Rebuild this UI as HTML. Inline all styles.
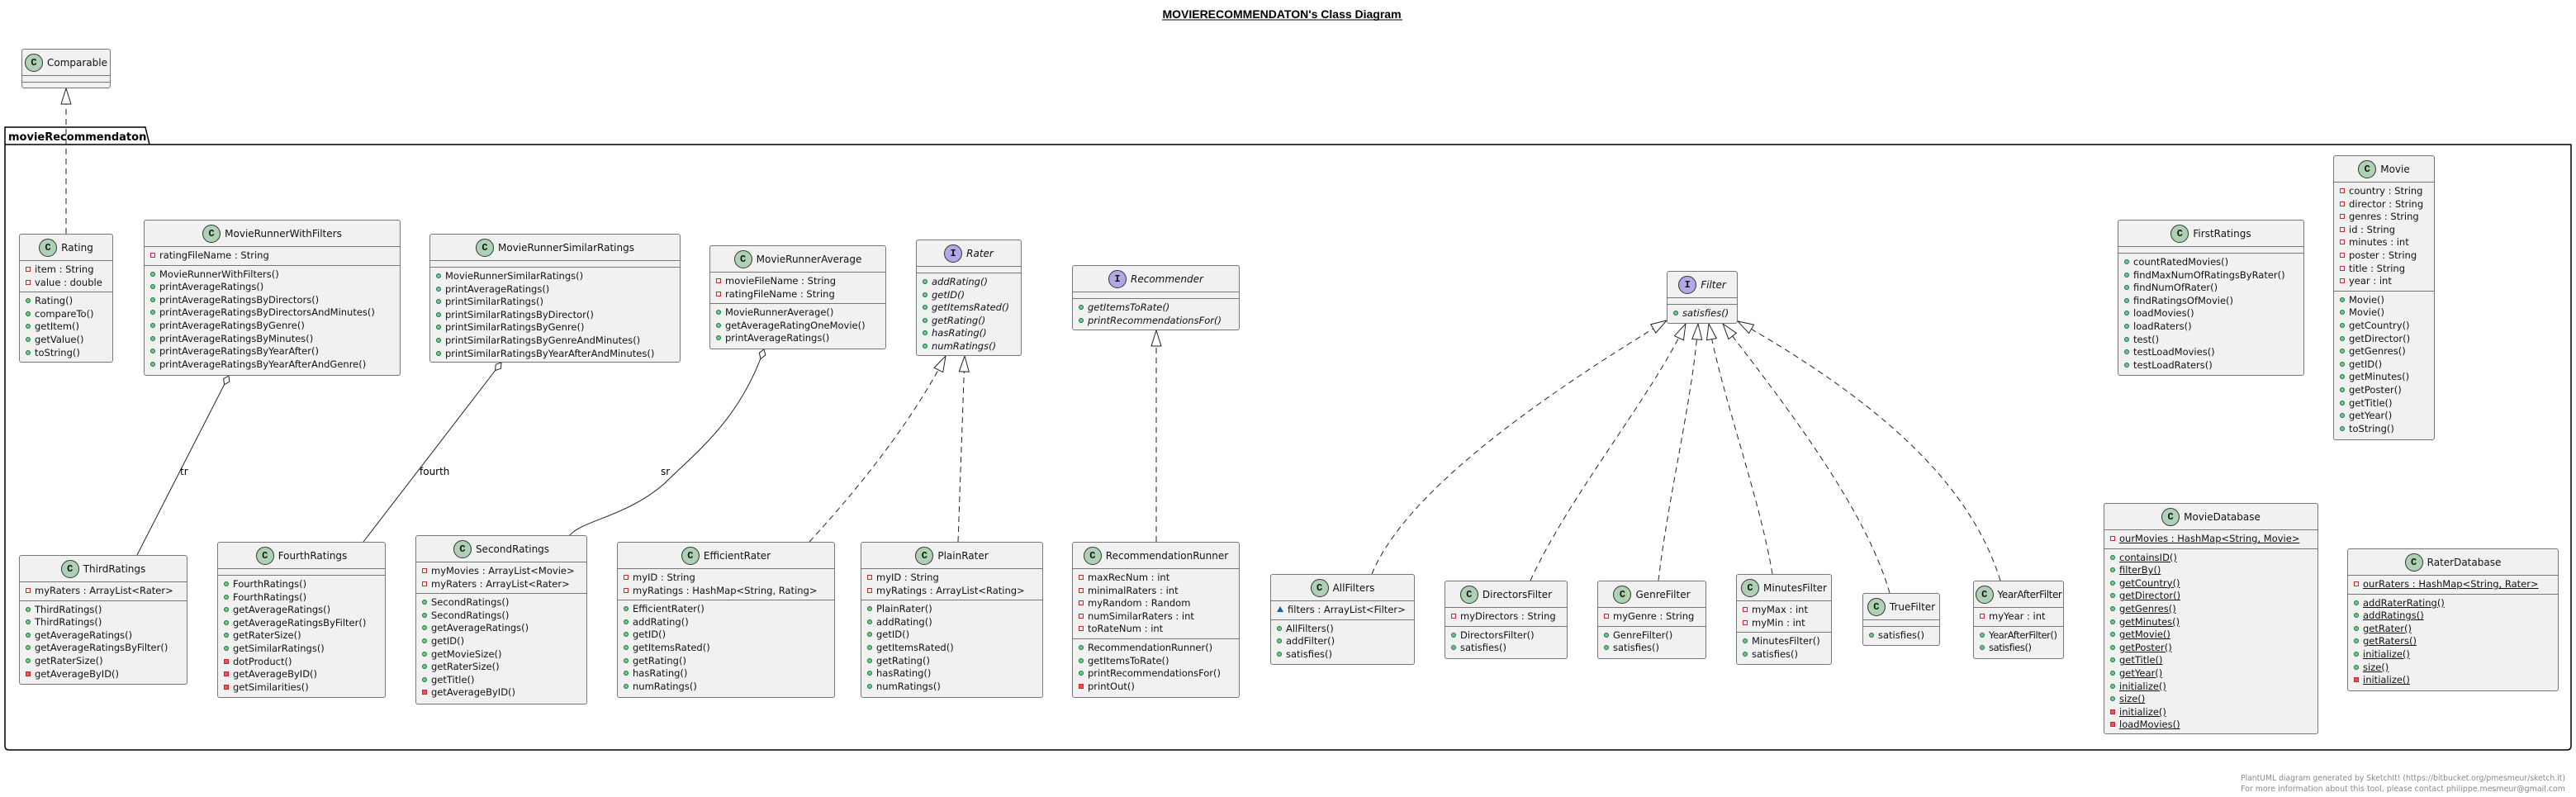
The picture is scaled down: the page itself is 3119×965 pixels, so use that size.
<!DOCTYPE html>
<html><head><meta charset="utf-8">
<style>
html,body{margin:0;padding:0;background:#fff;}
body{width:3119px;height:965px;position:relative;overflow:hidden;font-family:"DejaVu Sans","Liberation Sans",sans-serif;}
svg.bg{position:absolute;left:0;top:0;}
.b{position:absolute;background:#f1f1f1;border:1px solid #777;border-radius:3px;box-sizing:border-box;font-size:11.5px;color:#111;overflow:hidden;}
.h{height:31px;display:flex;align-items:center;justify-content:center;font-size:12px;white-space:nowrap;}
.h .ic{width:20px;height:20px;flex:none;border-radius:50%;border:1px solid #333;background:#add1b2;display:inline-flex;align-items:center;justify-content:center;font-weight:bold;font-size:12px;margin-right:5px;font-family:"Liberation Mono",monospace;}
.h .ii{background:#b4a7e5;}
.it{font-style:italic;}
.c{border-top:1px solid #777;padding:3px 0 3px 0;min-height:1px;}
.e{border-top:1px solid #777;height:7px;}
.c div{line-height:15.6px;height:15.6px;white-space:nowrap;padding-left:7px;}
i{display:inline-block;width:6px;height:6px;margin-right:5px;vertical-align:1px;box-sizing:border-box;}
i.pu{border-radius:50%;background:#84be84;border:1px solid #038048;}
i.pf{border:1px solid #c82930;background:transparent;}
i.pm{background:#f24d5c;border:1px solid #c82930;}
i.pk{width:0;height:0;border-left:4px solid transparent;border-right:4px solid transparent;border-bottom:7px solid #1963a0;}
u{text-decoration:underline;}
.lbl{position:absolute;font-size:12px;font-family:"DejaVu Sans",sans-serif;}
</style></head><body>
<svg class="bg" width="3119" height="965" xmlns="http://www.w3.org/2000/svg">
<defs>
<marker id="tri" markerUnits="userSpaceOnUse" markerWidth="24" markerHeight="18" refX="20" refY="7" orient="auto">
<path d="M1,1 L20,7 L1,13 Z" fill="#fff" stroke="#222" stroke-width="1"/>
</marker>
<marker id="dia" markerUnits="userSpaceOnUse" markerWidth="20" markerHeight="12" refX="1" refY="5" orient="auto">
<path d="M1,5 L7,1 L13,5 L7,9 Z" fill="#fff" stroke="#222" stroke-width="1"/>
</marker>
</defs>
<text x="1552" y="22" text-anchor="middle" font-family="Liberation Sans, sans-serif" font-weight="bold" font-size="14">MOVIERECOMMENDATON's Class Diagram</text>
<line x1="1407" y1="24" x2="1698" y2="24" stroke="#000" stroke-width="1"/>
<path d="M6,175 L6,154 L176,154 L181,175" fill="none" stroke="#000" stroke-width="1.5"/>
<path d="M6,175 L3113,175 L3113,903 Q3113,908 3108,908 L11,908 Q6,908 6,903 Z" fill="none" stroke="#000" stroke-width="1.5"/>
<text x="10" y="170" font-family="DejaVu Sans, sans-serif" font-weight="bold" font-size="13">movieRecommendaton</text>
<g fill="none" stroke="#222" stroke-width="1" stroke-dasharray="7,5">
<path d="M80,283 L80,107" marker-end="url(#tri)"/>
<path d="M980,656 C1050,580 1110,500 1145,431" marker-end="url(#tri)"/>
<path d="M1160,656 L1168,431" marker-end="url(#tri)"/>
<path d="M1400,656 L1400,400" marker-end="url(#tri)"/>
<path d="M1661,695 C1700,600 1850,490 2018,388" marker-end="url(#tri)"/>
<path d="M1853,703 C1900,600 2000,480 2041,392" marker-end="url(#tri)"/>
<path d="M2008,703 C2020,600 2050,480 2056,392" marker-end="url(#tri)"/>
<path d="M2146,695 C2130,600 2085,480 2069,392" marker-end="url(#tri)"/>
<path d="M2288,718 C2260,620 2170,500 2086,392" marker-end="url(#tri)"/>
<path d="M2422,703 C2390,600 2300,500 2104,389" marker-end="url(#tri)"/>
</g>
<g fill="none" stroke="#222" stroke-width="1">
<path d="M277,455 L166,672" marker-start="url(#dia)"/>
<path d="M607,439 L440,656" marker-start="url(#dia)"/>
<path d="M925,423 C895,510 840,550 805,585 C760,625 705,630 690,648" marker-start="url(#dia)"/>
</g>
<text x="3106" y="945" text-anchor="end" font-family="DejaVu Sans, sans-serif" font-size="9.5" fill="#888" textLength="393" lengthAdjust="spacingAndGlyphs">PlantUML diagram generated by SketchIt! (https://bitbucket.org/pmesmeur/sketch.it)</text>
<text x="3106" y="958" text-anchor="end" font-family="DejaVu Sans, sans-serif" font-size="9.5" fill="#888" textLength="393" lengthAdjust="spacingAndGlyphs">For more information about this tool, please contact philippe.mesmeur@gmail.com</text>
</svg>

<div class="lbl" style="left:218px;top:564px">tr</div>
<div class="lbl" style="left:508px;top:564px">fourth</div>
<div class="lbl" style="left:800px;top:564px">sr</div>

<div class="b" style="left:26px;top:59px;width:108px;height:48px"><div class="h"><span class="ic">C</span>Comparable</div><div class="e"></div><div class="e"></div></div>

<div class="b" style="left:23px;top:283px;width:114px;height:156px"><div class="h"><span class="ic">C</span>Rating</div>
<div class="c"><div><i class="pf"></i>item : String</div><div><i class="pf"></i>value : double</div></div>
<div class="c"><div><i class="pu"></i>Rating()</div><div><i class="pu"></i>compareTo()</div><div><i class="pu"></i>getItem()</div><div><i class="pu"></i>getValue()</div><div><i class="pu"></i>toString()</div></div></div>

<div class="b" style="left:174px;top:266px;width:311px;height:189px"><div class="h"><span class="ic">C</span>MovieRunnerWithFilters</div>
<div class="c"><div><i class="pf"></i>ratingFileName : String</div></div>
<div class="c"><div><i class="pu"></i>MovieRunnerWithFilters()</div><div><i class="pu"></i>printAverageRatings()</div><div><i class="pu"></i>printAverageRatingsByDirectors()</div><div><i class="pu"></i>printAverageRatingsByDirectorsAndMinutes()</div><div><i class="pu"></i>printAverageRatingsByGenre()</div><div><i class="pu"></i>printAverageRatingsByMinutes()</div><div><i class="pu"></i>printAverageRatingsByYearAfter()</div><div><i class="pu"></i>printAverageRatingsByYearAfterAndGenre()</div></div></div>

<div class="b" style="left:520px;top:283px;width:304px;height:156px"><div class="h"><span class="ic">C</span>MovieRunnerSimilarRatings</div>
<div class="e"></div>
<div class="c"><div><i class="pu"></i>MovieRunnerSimilarRatings()</div><div><i class="pu"></i>printAverageRatings()</div><div><i class="pu"></i>printSimilarRatings()</div><div><i class="pu"></i>printSimilarRatingsByDirector()</div><div><i class="pu"></i>printSimilarRatingsByGenre()</div><div><i class="pu"></i>printSimilarRatingsByGenreAndMinutes()</div><div><i class="pu"></i>printSimilarRatingsByYearAfterAndMinutes()</div></div></div>

<div class="b" style="left:859px;top:297px;width:214px;height:126px"><div class="h"><span class="ic">C</span>MovieRunnerAverage</div>
<div class="c"><div><i class="pf"></i>movieFileName : String</div><div><i class="pf"></i>ratingFileName : String</div></div>
<div class="c"><div><i class="pu"></i>MovieRunnerAverage()</div><div><i class="pu"></i>getAverageRatingOneMovie()</div><div><i class="pu"></i>printAverageRatings()</div></div></div>

<div class="b" style="left:1109px;top:290px;width:128px;height:141px"><div class="h"><span class="ic ii">I</span><span class="it">Rater</span></div>
<div class="e"></div>
<div class="c it"><div><i class="pu"></i>addRating()</div><div><i class="pu"></i>getID()</div><div><i class="pu"></i>getItemsRated()</div><div><i class="pu"></i>getRating()</div><div><i class="pu"></i>hasRating()</div><div><i class="pu"></i>numRatings()</div></div></div>

<div class="b" style="left:1298px;top:321px;width:203px;height:79px"><div class="h"><span class="ic ii">I</span><span class="it">Recommender</span></div>
<div class="e"></div>
<div class="c it"><div><i class="pu"></i>getItemsToRate()</div><div><i class="pu"></i>printRecommendationsFor()</div></div></div>

<div class="b" style="left:2018px;top:328px;width:86px;height:64px"><div class="h"><span class="ic ii">I</span><span class="it">Filter</span></div>
<div class="e"></div>
<div class="c it"><div><i class="pu"></i>satisfies()</div></div></div>

<div class="b" style="left:2564px;top:266px;width:226px;height:189px"><div class="h"><span class="ic">C</span>FirstRatings</div>
<div class="e"></div>
<div class="c"><div><i class="pu"></i>countRatedMovies()</div><div><i class="pu"></i>findMaxNumOfRatingsByRater()</div><div><i class="pu"></i>findNumOfRater()</div><div><i class="pu"></i>findRatingsOfMovie()</div><div><i class="pu"></i>loadMovies()</div><div><i class="pu"></i>loadRaters()</div><div><i class="pu"></i>test()</div><div><i class="pu"></i>testLoadMovies()</div><div><i class="pu"></i>testLoadRaters()</div></div></div>

<div class="b" style="left:2825px;top:188px;width:123px;height:345px"><div class="h"><span class="ic">C</span>Movie</div>
<div class="c"><div><i class="pf"></i>country : String</div><div><i class="pf"></i>director : String</div><div><i class="pf"></i>genres : String</div><div><i class="pf"></i>id : String</div><div><i class="pf"></i>minutes : int</div><div><i class="pf"></i>poster : String</div><div><i class="pf"></i>title : String</div><div><i class="pf"></i>year : int</div></div>
<div class="c"><div><i class="pu"></i>Movie()</div><div><i class="pu"></i>Movie()</div><div><i class="pu"></i>getCountry()</div><div><i class="pu"></i>getDirector()</div><div><i class="pu"></i>getGenres()</div><div><i class="pu"></i>getID()</div><div><i class="pu"></i>getMinutes()</div><div><i class="pu"></i>getPoster()</div><div><i class="pu"></i>getTitle()</div><div><i class="pu"></i>getYear()</div><div><i class="pu"></i>toString()</div></div></div>

<div class="b" style="left:23px;top:672px;width:204px;height:157px"><div class="h"><span class="ic">C</span>ThirdRatings</div>
<div class="c"><div><i class="pf"></i>myRaters : ArrayList&lt;Rater&gt;</div></div>
<div class="c"><div><i class="pu"></i>ThirdRatings()</div><div><i class="pu"></i>ThirdRatings()</div><div><i class="pu"></i>getAverageRatings()</div><div><i class="pu"></i>getAverageRatingsByFilter()</div><div><i class="pu"></i>getRaterSize()</div><div><i class="pm"></i>getAverageByID()</div></div></div>

<div class="b" style="left:263px;top:656px;width:204px;height:189px"><div class="h"><span class="ic">C</span>FourthRatings</div>
<div class="e"></div>
<div class="c"><div><i class="pu"></i>FourthRatings()</div><div><i class="pu"></i>FourthRatings()</div><div><i class="pu"></i>getAverageRatings()</div><div><i class="pu"></i>getAverageRatingsByFilter()</div><div><i class="pu"></i>getRaterSize()</div><div><i class="pu"></i>getSimilarRatings()</div><div><i class="pm"></i>dotProduct()</div><div><i class="pm"></i>getAverageByID()</div><div><i class="pm"></i>getSimilarities()</div></div></div>

<div class="b" style="left:503px;top:648px;width:208px;height:205px"><div class="h"><span class="ic">C</span>SecondRatings</div>
<div class="c"><div><i class="pf"></i>myMovies : ArrayList&lt;Movie&gt;</div><div><i class="pf"></i>myRaters : ArrayList&lt;Rater&gt;</div></div>
<div class="c"><div><i class="pu"></i>SecondRatings()</div><div><i class="pu"></i>SecondRatings()</div><div><i class="pu"></i>getAverageRatings()</div><div><i class="pu"></i>getID()</div><div><i class="pu"></i>getMovieSize()</div><div><i class="pu"></i>getRaterSize()</div><div><i class="pu"></i>getTitle()</div><div><i class="pm"></i>getAverageByID()</div></div></div>

<div class="b" style="left:747px;top:656px;width:264px;height:189px"><div class="h"><span class="ic">C</span>EfficientRater</div>
<div class="c"><div><i class="pf"></i>myID : String</div><div><i class="pf"></i>myRatings : HashMap&lt;String, Rating&gt;</div></div>
<div class="c"><div><i class="pu"></i>EfficientRater()</div><div><i class="pu"></i>addRating()</div><div><i class="pu"></i>getID()</div><div><i class="pu"></i>getItemsRated()</div><div><i class="pu"></i>getRating()</div><div><i class="pu"></i>hasRating()</div><div><i class="pu"></i>numRatings()</div></div></div>

<div class="b" style="left:1042px;top:656px;width:221px;height:189px"><div class="h"><span class="ic">C</span>PlainRater</div>
<div class="c"><div><i class="pf"></i>myID : String</div><div><i class="pf"></i>myRatings : ArrayList&lt;Rating&gt;</div></div>
<div class="c"><div><i class="pu"></i>PlainRater()</div><div><i class="pu"></i>addRating()</div><div><i class="pu"></i>getID()</div><div><i class="pu"></i>getItemsRated()</div><div><i class="pu"></i>getRating()</div><div><i class="pu"></i>hasRating()</div><div><i class="pu"></i>numRatings()</div></div></div>

<div class="b" style="left:1298px;top:656px;width:203px;height:189px"><div class="h"><span class="ic">C</span>RecommendationRunner</div>
<div class="c"><div><i class="pf"></i>maxRecNum : int</div><div><i class="pf"></i>minimalRaters : int</div><div><i class="pf"></i>myRandom : Random</div><div><i class="pf"></i>numSimilarRaters : int</div><div><i class="pf"></i>toRateNum : int</div></div>
<div class="c"><div><i class="pu"></i>RecommendationRunner()</div><div><i class="pu"></i>getItemsToRate()</div><div><i class="pu"></i>printRecommendationsFor()</div><div><i class="pm"></i>printOut()</div></div></div>

<div class="b" style="left:1538px;top:695px;width:175px;height:110px"><div class="h"><span class="ic">C</span>AllFilters</div>
<div class="c"><div><i class="pk"></i>filters : ArrayList&lt;Filter&gt;</div></div>
<div class="c"><div><i class="pu"></i>AllFilters()</div><div><i class="pu"></i>addFilter()</div><div><i class="pu"></i>satisfies()</div></div></div>

<div class="b" style="left:1749px;top:703px;width:149px;height:95px"><div class="h"><span class="ic">C</span>DirectorsFilter</div>
<div class="c"><div><i class="pf"></i>myDirectors : String</div></div>
<div class="c"><div><i class="pu"></i>DirectorsFilter()</div><div><i class="pu"></i>satisfies()</div></div></div>

<div class="b" style="left:1934px;top:703px;width:132px;height:95px"><div class="h"><span class="ic">C</span>GenreFilter</div>
<div class="c"><div><i class="pf"></i>myGenre : String</div></div>
<div class="c"><div><i class="pu"></i>GenreFilter()</div><div><i class="pu"></i>satisfies()</div></div></div>

<div class="b" style="left:2102px;top:695px;width:116px;height:110px"><div class="h"><span class="ic">C</span>MinutesFilter</div>
<div class="c"><div><i class="pf"></i>myMax : int</div><div><i class="pf"></i>myMin : int</div></div>
<div class="c"><div><i class="pu"></i>MinutesFilter()</div><div><i class="pu"></i>satisfies()</div></div></div>

<div class="b" style="left:2255px;top:718px;width:94px;height:64px"><div class="h"><span class="ic">C</span>TrueFilter</div>
<div class="e"></div>
<div class="c"><div><i class="pu"></i>satisfies()</div></div></div>

<div class="b" style="left:2389px;top:703px;width:110px;height:95px"><div class="h" style="letter-spacing:-0.4px"><span class="ic">C</span>YearAfterFilter</div>
<div class="c"><div><i class="pf"></i>myYear : int</div></div>
<div class="c" style="letter-spacing:-0.4px"><div><i class="pu"></i>YearAfterFilter()</div><div><i class="pu"></i>satisfies()</div></div></div>

<div class="b" style="left:2547px;top:609px;width:260px;height:280px"><div class="h"><span class="ic">C</span>MovieDatabase</div>
<div class="c"><div><i class="pf"></i><u>ourMovies : HashMap&lt;String, Movie&gt;</u></div></div>
<div class="c"><div><i class="pu"></i><u>containsID()</u></div><div><i class="pu"></i><u>filterBy()</u></div><div><i class="pu"></i><u>getCountry()</u></div><div><i class="pu"></i><u>getDirector()</u></div><div><i class="pu"></i><u>getGenres()</u></div><div><i class="pu"></i><u>getMinutes()</u></div><div><i class="pu"></i><u>getMovie()</u></div><div><i class="pu"></i><u>getPoster()</u></div><div><i class="pu"></i><u>getTitle()</u></div><div><i class="pu"></i><u>getYear()</u></div><div><i class="pu"></i><u>initialize()</u></div><div><i class="pu"></i><u>size()</u></div><div><i class="pm"></i><u>initialize()</u></div><div><i class="pm"></i><u>loadMovies()</u></div></div></div>

<div class="b" style="left:2842px;top:664px;width:256px;height:173px"><div class="h"><span class="ic">C</span>RaterDatabase</div>
<div class="c"><div><i class="pf"></i><u>ourRaters : HashMap&lt;String, Rater&gt;</u></div></div>
<div class="c"><div><i class="pu"></i><u>addRaterRating()</u></div><div><i class="pu"></i><u>addRatings()</u></div><div><i class="pu"></i><u>getRater()</u></div><div><i class="pu"></i><u>getRaters()</u></div><div><i class="pu"></i><u>initialize()</u></div><div><i class="pu"></i><u>size()</u></div><div><i class="pm"></i><u>initialize()</u></div></div></div>

</body></html>
